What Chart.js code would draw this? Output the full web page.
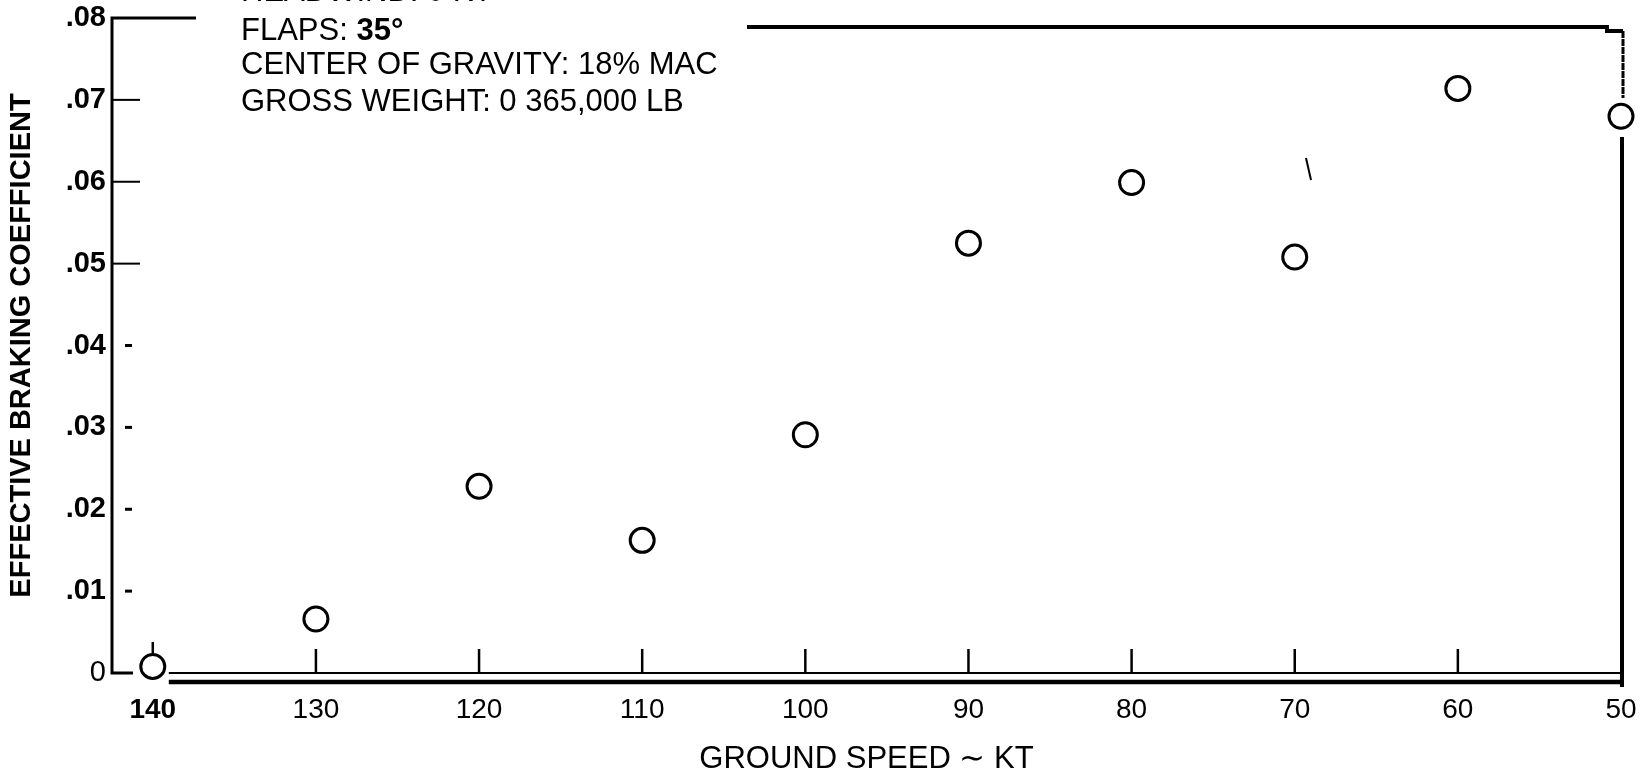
<!DOCTYPE html>
<html>
<head>
<meta charset="utf-8">
<script src="https://cdn.jsdelivr.net/npm/chart.js@4.4.0/dist/chart.umd.min.js"></script>
<style>
  html, body { margin: 0; padding: 0; background: #fff; }
  #wrap { width: 1645px; height: 775px; position: relative; }
  canvas { display: block; }
</style>
</head>
<body>
<div id="wrap"><canvas id="brakeChart" width="1645" height="775"></canvas></div>
<script>
/* ---- Data ---- */
const groundSpeedKt = [140, 130, 120, 110, 100, 90, 80, 70, 60, 50];
const brakingCoeff  = [0.0008, 0.0066, 0.0228, 0.0162, 0.0291, 0.0525, 0.0599, 0.0508, 0.0714, 0.0680];

const xTickValues = [140, 130, 120, 110, 100, 90, 80, 70, 60, 50];
const yTickValues = [0, 0.01, 0.02, 0.03, 0.04, 0.05, 0.06, 0.07, 0.08];

const conditionLines = [
  ["HEADWIND: 0 KT"],
  ["FLAPS: ", "35\u00b0"],
  ["CENTER OF GRAVITY: 18% MAC"],
  ["GROSS WEIGHT: 0 365,000 LB"]
];

const xTitle = "GROUND SPEED \u223c KT";
const yTitle = "EFFECTIVE BRAKING COEFFICIENT";

const FONT = "'Liberation Sans', Arial, Helvetica, sans-serif";

/* ---- Frame, ticks and the condition block (scanned-figure look) ---- */
const framePlugin = {
  id: "frame",
  beforeDatasetsDraw(chart){
    const { ctx, chartArea } = chart;
    const xs = chart.scales.x, ys = chart.scales.y;
    const px = v => xs.getPixelForValue(v);
    const py = v => ys.getPixelForValue(v);
    const left = chartArea.left;
    const top = py(0.08);
    const base = py(0);
    const right = px(50);

    ctx.save();
    ctx.strokeStyle = "#000";
    ctx.lineCap = "butt";

    // left axis with short top stub and foot
    ctx.lineWidth = 3;
    ctx.beginPath();
    ctx.moveTo(left + 84, top);
    ctx.lineTo(left, top);
    ctx.lineTo(left, base);
    ctx.lineTo(left + 21, base);
    ctx.stroke();

    // thin baseline
    ctx.lineWidth = 2;
    ctx.beginPath();
    ctx.moveTo(px(140) + 16, base);
    ctx.lineTo(right, base);
    ctx.stroke();

    // heavy baseline below
    ctx.lineWidth = 4.5;
    ctx.beginPath();
    ctx.moveTo(px(140) + 16, base + 9);
    ctx.lineTo(right + 3, base + 9);
    ctx.stroke();

    // top line (right part) with small step
    ctx.lineWidth = 4;
    ctx.beginPath();
    ctx.moveTo(747, top + 9);
    ctx.lineTo(right - 14, top + 9);
    ctx.lineTo(right - 14, top + 13);
    ctx.lineTo(right + 2, top + 13);
    ctx.stroke();

    // right border: rough above the last point, solid below it
    ctx.lineWidth = 3;
    ctx.setLineDash([7, 1]);
    ctx.beginPath();
    ctx.moveTo(right + 2, top + 13);
    ctx.lineTo(right + 2, top + 80);
    ctx.stroke();
    ctx.setLineDash([]);
    ctx.lineWidth = 4;
    ctx.beginPath();
    ctx.moveTo(right + 1, top + 119);
    ctx.lineTo(right + 1, base + 14);
    ctx.stroke();

    // x tick marks (upward)
    ctx.lineWidth = 2.5;
    xTickValues.forEach(v => {
      if(v === 50) return;
      ctx.beginPath();
      if(v === 140){
        ctx.moveTo(px(v), base - 31);
        ctx.lineTo(px(v), base - 20);
      } else {
        ctx.moveTo(px(v), base - 24);
        ctx.lineTo(px(v), base);
      }
      ctx.stroke();
    });

    // y tick marks
    yTickValues.forEach(v => {
      if(v === 0 || v === 0.08) return;
      ctx.beginPath();
      if(v >= 0.045){
        ctx.lineWidth = 2;
        ctx.moveTo(left, py(v));
        ctx.lineTo(left + 28, py(v));
      } else {
        ctx.lineWidth = 3;
        ctx.moveTo(left + 13, py(v));
        ctx.lineTo(left + 20, py(v));
      }
      ctx.stroke();
    });

    // stray pen mark from the original scan
    ctx.lineWidth = 2;
    ctx.beginPath();
    ctx.moveTo(1306, 158);
    ctx.lineTo(1311, 180);
    ctx.stroke();

    // condition block
    ctx.fillStyle = "#000";
    ctx.textBaseline = "middle";
    ctx.textAlign = "left";
    const lineY = [-8, 31, 65, 102];
    conditionLines.forEach((parts, i) => {
      let x = 241;
      parts.forEach((p, j) => {
        ctx.font = (j === 1 ? "bold " : "") + "31px " + FONT;
        ctx.fillText(p, x, lineY[i]);
        x += ctx.measureText(p).width;
      });
    });

    ctx.restore();
  }
};

function buildOptions(){
  return {
    responsive: false,
    animation: false,
    layout: { padding: { top: 18, right: 24, left: 0, bottom: 0 } },
    plugins: { legend: { display: false }, tooltip: { enabled: false } },
    scales: {
      x: {
        type: "linear",
        reverse: true,
        min: 50,
        max: 142.5,
        grid: { display: false, drawTicks: false },
        border: { display: false },
        afterBuildTicks: s => { s.ticks = xTickValues.map(v => ({ value: v })); },
        afterFit: s => { s.height = 102; s.paddingLeft = 0; s.paddingRight = 0; },
        ticks: {
          color: "#000",
          padding: 20,
          maxRotation: 0,
          autoSkip: false,
          font: ctx => ({ family: FONT, size: 28, weight: ctx.tick && ctx.tick.value === 140 ? "bold" : "normal" }),
          callback: v => String(v)
        },
        title: {
          display: true,
          text: xTitle,
          color: "#000",
          font: { family: FONT, size: 31 },
          padding: { top: 0, bottom: -3 }
        }
      },
      y: {
        type: "linear",
        min: 0,
        max: 0.08,
        grid: { display: false, drawTicks: false },
        border: { display: false },
        afterBuildTicks: s => { s.ticks = yTickValues.map(v => ({ value: v })); },
        afterFit: s => { s.width = 112; s.paddingTop = 0; s.paddingBottom = 0; },
        ticks: {
          color: "#000",
          padding: 6,
          font: ctx => ({ family: FONT, size: 29, weight: ctx.tick && ctx.tick.value === 0 ? "normal" : "bold" }),
          callback: v => v === 0 ? "0" : v.toFixed(2).replace(/^0/, "")
        },
        title: {
          display: true,
          text: yTitle,
          color: "#000",
          font: { family: FONT, size: 29, weight: "bold" },
          padding: { top: 5, bottom: 0 }
        }
      }
    }
  };
}

const chart = new Chart(document.getElementById("brakeChart"), {
  type: "scatter",
  data: {
    datasets: [{
      label: "Effective braking coefficient",
      data: groundSpeedKt.map((s, i) => ({ x: s, y: brakingCoeff[i] })),
      pointStyle: "circle",
      pointRadius: 12,
      pointBorderWidth: 3,
      pointBorderColor: "#000",
      pointBackgroundColor: "#fff",
      clip: false
    }]
  },
  options: buildOptions(),
  plugins: [framePlugin]
});
</script>
</body>
</html>
